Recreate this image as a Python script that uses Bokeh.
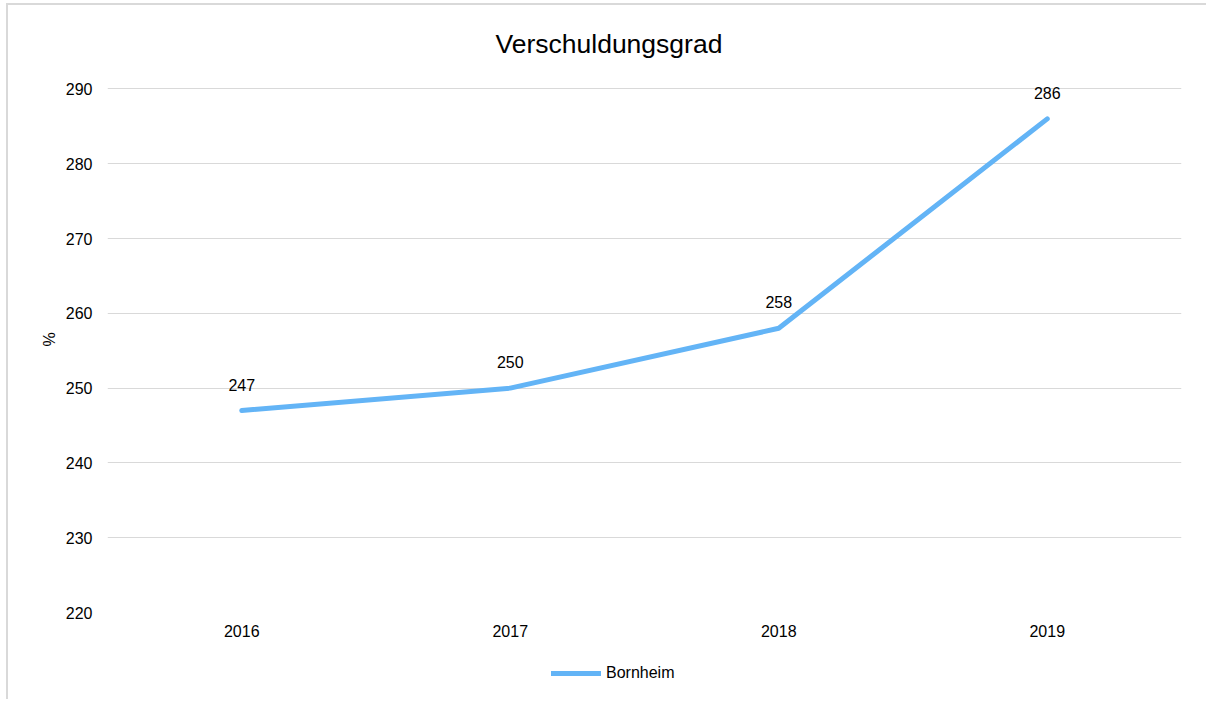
from bokeh.plotting import figure
from bokeh.layouts import column
from bokeh.models import (Range1d, FactorRange, FixedTicker, ColumnDataSource, LabelSet,
                          Legend, LegendItem)
from bokeh.core.properties import value
from bokeh.embed import file_html
from bokeh.resources import INLINE

years = ["2016", "2017", "2018", "2019"]
values = [247, 250, 258, 286]
y_ticks = [220, 230, 240, 250, 260, 270, 280, 290]
series_name = "Bornheim"
title_text = "Verschuldungsgrad"

FONT = "Liberation Sans"
BLUE = "#63b4f6"
GRID = "#d9d9d9"

src = ColumnDataSource(dict(x=years, y=values, label=[str(v) for v in values]))

p = figure(width=1198, height=650, x_range=FactorRange(*years, range_padding=0),
           y_range=Range1d(220, 293), output_backend="svg", toolbar_location=None,
           min_border_left=99, min_border_right=25, min_border_top=61, min_border_bottom=43)

p.title.text = title_text
p.title.align = "left"
p.title.offset = 388
p.title.text_font = FONT
p.title.text_font_size = "26.5px"
p.title.text_font_style = "normal"
p.title.text_color = "#000000"
p.title.standoff = 16

p.outline_line_color = None
p.xgrid.grid_line_color = None
p.ygrid.grid_line_color = GRID
p.ygrid.grid_line_width = 1
p.yaxis.ticker = FixedTicker(ticks=y_ticks)

for ax in (p.xaxis, p.yaxis):
    ax.axis_line_color = None
    ax.major_tick_line_color = None
    ax.minor_tick_line_color = None
    ax.major_label_text_font = FONT
    ax.major_label_text_font_size = "16px"
    ax.major_label_text_color = "#000000"

p.yaxis.major_label_standoff = 9
p.xaxis.major_label_standoff = 6
p.yaxis.axis_label = "%"
p.yaxis.axis_label_text_font = FONT
p.yaxis.axis_label_text_font_size = "16px"
p.yaxis.axis_label_text_font_style = "normal"
p.yaxis.axis_label_text_color = "#000000"
p.yaxis.axis_label_standoff = 5

r = p.line("x", "y", source=src, line_color=BLUE, line_width=5, line_cap="round", line_join="round")

labels = LabelSet(x="x", y="y", text="label", source=src, y_offset=20, text_align="center",
                  text_baseline="bottom", text_font=value(FONT), text_font_size="16px",
                  text_color="#000000")
p.add_layout(labels)

# legend strip below the chart (its renderer lies outside the visible range)
lg = figure(width=1198, height=44, x_range=Range1d(0, 1), y_range=Range1d(0, 1),
            x_axis_type=None, y_axis_type=None, output_backend="svg", toolbar_location=None,
            min_border=0)
lg.outline_line_color = None
lr = lg.line([5, 6], [5, 6], line_color=BLUE, line_width=5, line_cap="round")
legend = Legend(items=[LegendItem(label=series_name, renderers=[lr])], orientation="horizontal",
                location=(444, 16), label_text_font=FONT, label_text_font_size="16px",
                label_text_color="#000000", glyph_width=50, label_standoff=5,
                border_line_color=None, background_fill_alpha=0, margin=0, padding=0, spacing=0)
lg.add_layout(legend)

layout = column(p, lg, spacing=0)
layout.styles = {"border-left": "2px solid #d9d9d9", "border-top": "2px solid #d9d9d9",
                 "margin-left": "6px", "margin-top": "3px"}

open("out.html", "w").write(file_html(layout, INLINE))
